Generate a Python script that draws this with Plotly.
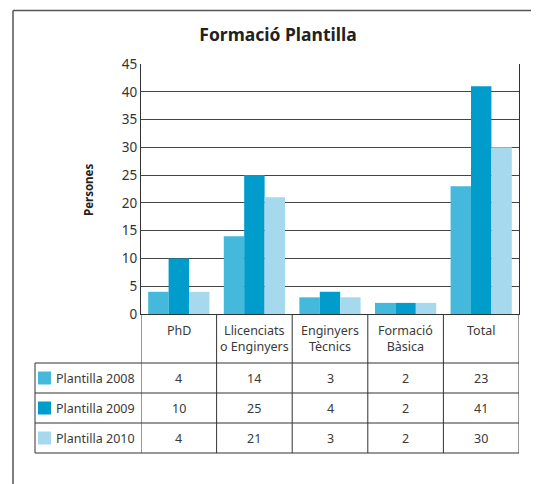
import plotly.graph_objects as go

categories = ["PhD", "Llicenciats o Enginyers", "Enginyers Tècnics", "Formació Bàsica", "Total"]
header_labels = ["PhD", "Llicenciats<br>o Enginyers", "Enginyers<br>Tècnics", "Formació<br>Bàsica", "Total"]
series_names = ["Plantilla 2008", "Plantilla 2009", "Plantilla 2010"]
values_2008 = [4, 14, 3, 2, 23]
values_2009 = [10, 25, 4, 2, 41]
values_2010 = [4, 21, 3, 2, 30]
colors = ["#44B9DB", "#009CCC", "#A6D9EE"]
y_ticks = [0, 5, 10, 15, 20, 25, 30, 35, 40, 45]

W, H = 539, 484
OFF = 8  # page body margin
PL, PT, PW, PH = 141, 64, 378, 250  # plot area in screenshot pixels
L = PL - OFF
T = PT - OFF
R = W - L - PW
B = H - T - PH

def px(x):
    return (x - PL) / PW

def py(y):
    return (PT + PH - y) / PH

series = [values_2008, values_2009, values_2010]
fig = go.Figure()
for name, vals, c in zip(series_names, series, colors):
    fig.add_trace(go.Bar(x=categories, y=vals, name=name, marker=dict(color=c, line=dict(width=0))))

FONT = "Noto Sans"
TXT = "#3a3a3a"
LINE = "#333333"

shapes = []
annotations = []

# outer frame (only top and left visible)
shapes.append(dict(type="line", xref="paper", yref="paper", x0=px(13), x1=px(620), y0=py(10.5), y1=py(10.5),
                   line=dict(color="#555555", width=1.5)))
shapes.append(dict(type="line", xref="paper", yref="paper", x0=px(13), x1=px(13), y0=py(10.5), y1=py(580),
                   line=dict(color="#555555", width=1.5)))

# table horizontal lines
for yy in [363, 393, 423, 453]:
    shapes.append(dict(type="line", xref="paper", yref="paper", x0=px(35), x1=px(519), y0=py(yy), y1=py(yy),
                       line=dict(color=LINE, width=1)))
# table vertical lines at category boundaries
n = len(categories)
for i in range(n + 1):
    xb = i - 0.5
    shapes.append(dict(type="line", xref="x", yref="paper", x0=xb, x1=xb, y0=py(314), y1=py(453),
                       line=dict(color=LINE, width=1)))
shapes.append(dict(type="line", xref="paper", yref="paper", x0=px(35), x1=px(35), y0=py(363), y1=py(453),
                   line=dict(color=LINE, width=1)))

# header labels
for i, lab in enumerate(header_labels):
    annotations.append(dict(x=i, xref="x", y=py(320), yref="paper", yanchor="top", text=lab, showarrow=False,
                            font=dict(family=FONT, size=12.5, color=TXT), align="center"))

row_centers = [378, 408, 438]
for r, (name, vals, c) in enumerate(zip(series_names, series, colors)):
    yc = row_centers[r]
    shapes.append(dict(type="rect", xref="paper", yref="paper", x0=px(38), x1=px(51), y0=py(yc - 6.5), y1=py(yc + 6.5),
                       line=dict(width=0), fillcolor=c))
    annotations.append(dict(x=px(54), xref="paper", y=py(yc), yref="paper", xanchor="left", yanchor="middle",
                            text=name, showarrow=False, font=dict(family=FONT, size=12.5, color=TXT)))
    for i, v in enumerate(vals):
        annotations.append(dict(x=i, xref="x", y=py(yc), yref="paper", yanchor="middle", text=str(v),
                                showarrow=False, font=dict(family=FONT, size=12.5, color=TXT)))

# y axis title
annotations.append(dict(x=px(88), xref="paper", y=py(190), yref="paper", xanchor="center", yanchor="middle",
                        text="<b>Persones</b>", textangle=-90,
                        showarrow=False, font=dict(family=FONT, size=11.5, color="#222222")))

fig.update_layout(
    width=W, height=H,
    margin=dict(l=L, r=R, t=T, b=B),
    paper_bgcolor="white", plot_bgcolor="white",
    barmode="group", bargap=0.19, bargroupgap=0,
    showlegend=False,
    title=dict(text="<b>Formació Plantilla</b>", x=(278 - OFF) / W, xanchor="center", y=1 - (35 - OFF) / H,
               yanchor="middle", font=dict(family=FONT, size=17.5, color="#222222")),
    xaxis=dict(showticklabels=False, ticks="", showgrid=False, showline=True, linecolor=LINE, linewidth=1,
               mirror=False, range=[-0.5, n - 0.5], fixedrange=True),
    yaxis=dict(range=[0, 45], tickvals=y_ticks, showgrid=True, gridcolor="#444444", gridwidth=1,
               showline=True, linecolor=LINE, linewidth=1, mirror=True, ticks="", zeroline=False,
               tickfont=dict(family=FONT, size=13.5, color="#333333")),
    shapes=shapes, annotations=annotations,
)
fig.write_html("out.html")
